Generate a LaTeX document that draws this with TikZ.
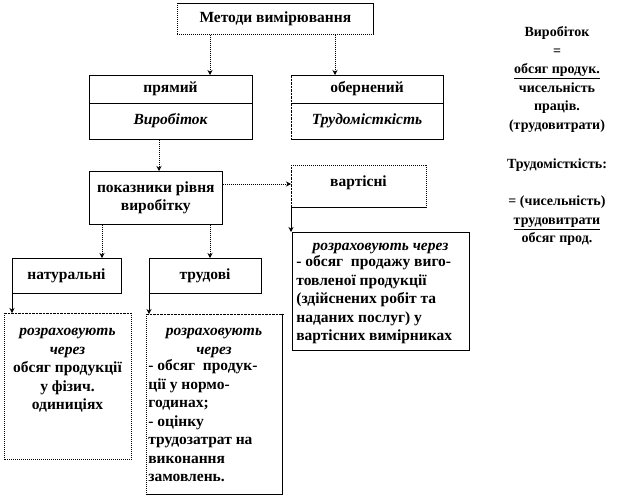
\documentclass[tikz,border=0pt]{standalone}
\usepackage{fontspec}
\setmainfont{Liberation Serif}
\usetikzlibrary{arrows.meta}
\newcommand\dfont{\fontsize{15.5}{18.5}\selectfont\bfseries}
\newcommand\cfont{\fontsize{14}{18.5}\selectfont\bfseries}
\begin{document}
\begin{tikzpicture}[x=1pt,y=-1pt, line width=0.7pt,
  bx/.style={draw=none, inner sep=0pt, anchor=north west},
  tx/.style={inner sep=0pt, font=\dfont, align=center},
  tl/.style={inner sep=0pt, font=\dfont, align=left},
  tc/.style={inner sep=0pt, font=\cfont, align=center},
  dt/.style={dash pattern=on 1pt off 1pt},
  ds/.style={dash pattern=on 2.5pt off 1pt},
  arr/.style={-{Stealth[length=5pt,width=5pt]}}]
\useasboundingbox (0,0) rectangle (627,498);

% Methods
\node[bx, minimum width=196pt, minimum height=31pt] (m) at (177,3) {};
\draw[dt] (m.north west) -- (m.south west) -- (m.south east);
\draw (m.north west) -- (m.north east) -- (m.south east);
\node[tx] (mt) at (m.center) {Методи вимірювання};

% direct
\node[bx, minimum width=163pt, minimum height=64pt] (pd) at (89,75) {};
\draw (pd.north west) rectangle (pd.south east);
\draw ([yshift=-28pt]pd.north west) -- ([yshift=-28pt]pd.north east);
\node[tx] (pdt1) at (170.5,89) {прямий};
\node[tx, font=\dfont\itshape] (pdt2) at (170.5,121) {Виробіток};

% inverse
\node[bx, minimum width=152pt, minimum height=64pt] (ob) at (291,75) {};
\draw[ds] (ob.north west) -- (ob.south west);
\draw (ob.north west) -- (ob.north east) -- (ob.south east) -- (ob.south west);
\draw ([yshift=-28pt]ob.north west) -- ([yshift=-28pt]ob.north east);
\node[tx] (obt1) at (367,89) {обернений};
\node[tx, font=\dfont\itshape] (obt2) at (367,121) {Трудомісткість};

\draw[arr,dt] ([xshift=33pt]m.south west) -- ([xshift=33pt]m.south west |- pd.north);
\draw[arr,dt] ([xshift=158pt]m.south west) -- ([xshift=158pt]m.south west |- ob.north);

% indicators
\node[bx, minimum width=133pt, minimum height=53pt] (p) at (89,171) {};
\draw (p.north west) rectangle (p.south east);
\node[tx] (pt) at (p.center) {показники рівня\\виробітку};
\draw[arr,dt] ([xshift=70pt]pd.south west) -- ([xshift=70pt]pd.south west |- p.north);

% value
\node[bx, minimum width=135pt, minimum height=42pt] (v) at (291,165) {};
\draw[ds] (v.south west) -- (v.north west);
\draw[dt] (v.north west) -- (v.north east) -- (v.south east);
\draw (v.south east) -- (v.south west);
\node[tx] (vt) at (358.5,183) {вартісні};
\draw[arr,dt] ([yshift=-13pt]p.north east) -- ([yshift=-13pt]p.north east -| v.west);

\node[bx, minimum width=177pt, minimum height=118pt] (r) at (292,232) {};
\draw (r.north west) rectangle (r.south east);
\draw[arr] (v.south west) -- (v.south west |- r.north);
\node[tx, font=\dfont\itshape, anchor=north] (rt1) at (380.5,237.5) {\strut розраховують через};
\node[tl, anchor=north west] (rt2) at (296,253.5) {\strut- обсяг\ \ продажу виго-\\товленої продукції\\(здійснених робіт та\\наданих послуг) у\\вартісних вимірниках};

% natural, labour
\node[bx, minimum width=109pt, minimum height=35pt] (n) at (12,258) {};
\draw (n.north west) rectangle (n.south east);
\node[tx] (nt) at (66.5,276) {натуральні};
\node[bx, minimum width=112pt, minimum height=35pt] (t) at (149,258) {};
\draw (t.north west) rectangle (t.south east);
\node[tx] (tt) at (205,276) {трудові};
\draw[arr,dt] ([xshift=13pt]p.south west) -- ([xshift=13pt]p.south west |- n.north);
\draw[arr,dt] ([xshift=121pt]p.south west) -- ([xshift=121pt]p.south west |- t.north);

% bottom boxes
\node[bx, minimum width=127pt, minimum height=146pt] (b1) at (4,313) {};
\draw[ds] (b1.north west) -- (b1.north east);
\draw[dt] (b1.north west) -- (b1.south west) -- (b1.south east) -- (b1.north east);
\draw[arr] (n.south west) -- (n.south west |- b1.north);
\node[tx, anchor=north] (b1t) at (67.5,322.5) {\strut\textit{розраховують}\\\textit{через}\\обсяг продукції\\у фізич.\\одиниціях};

\node[bx, minimum width=136pt, minimum height=180pt] (b2) at (146,314) {};
\draw[ds] (b2.north west) -- (b2.north east);
\draw[dt] (b2.north west) -- (b2.south west);
\draw (b2.south west) -- (b2.south east) -- (b2.north east);
\draw[arr] (t.south west) -- (t.south west |- b2.north);
\node[tx, font=\dfont\itshape, anchor=north] (b2t1) at (214,322.5) {\strut розраховують\\через};
\node[tl, anchor=north west] (b2t2) at (148,357.5) {\strut- обсяг\ \ продук-\\ції у нормо-\\годинах;\\- оцінку\\трудозатрат на\\виконання\\замовлень.};

% right column
\node[tc, anchor=north] (ca) at (557,23.5) {\strut Виробіток\\=\\\underline{обсяг продук.}\\чисельність\\праців.\\(трудовитрати)};
\node[tc] (cb) at (557,165) {Трудомісткість:};
\node[tc, anchor=north] (cc) at (557,192.5) {\strut= (чисельність)\\\underline{трудовитрати}\\обсяг прод.};
\end{tikzpicture}
\end{document}
